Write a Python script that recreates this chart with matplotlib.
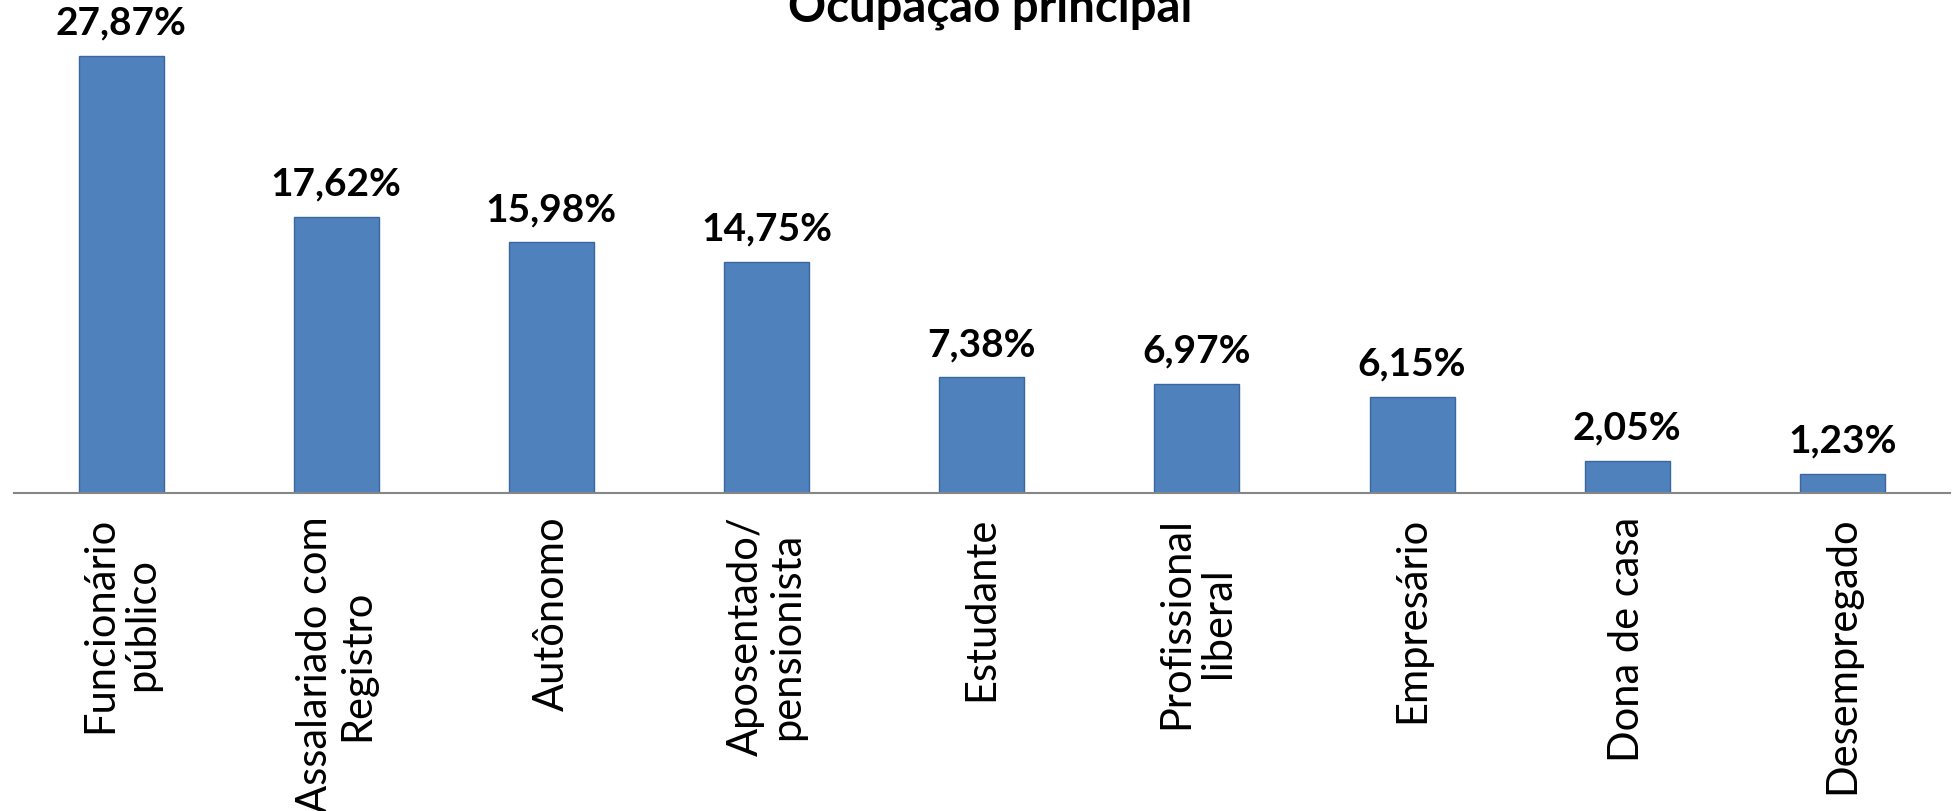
import numpy as np
import matplotlib
matplotlib.use("Agg")
import matplotlib.pyplot as plt

categories = ["Funcionário\npúblico", "Assalariado com\nRegistro", "Autônomo",
              "Aposentado/\npensionista", "Estudante", "Profissional\nliberal",
              "Empresário", "Dona de casa", "Desempregado"]
values = [27.87, 17.62, 15.98, 14.75, 7.38, 6.97, 6.15, 2.05, 1.23]
value_labels = ["27,87%", "17,62%", "15,98%", "14,75%", "7,38%", "6,97%",
                "6,15%", "2,05%", "1,23%"]
title = "Ocupação principal"

plt.rcParams['font.family'] = ['Lato', 'DejaVu Sans']

fig = plt.figure(figsize=(19.57, 8.11), dpi=100)
ax = fig.add_axes([0.0069, 0.392, 0.9895, 0.608])

x = np.arange(len(categories))
bars = ax.bar(x, values, width=0.395, color='#4F81BD', edgecolor='#3A679C',
              linewidth=1.0, zorder=2)

for b, lab in zip(bars, value_labels):
    ax.annotate(lab, (b.get_x() + b.get_width() / 2, b.get_height()),
                xytext=(0, 11), textcoords='offset points',
                ha='center', va='bottom', fontsize=28, fontweight='bold',
                clip_on=False)

ax.set_xlim(-0.5, len(categories) - 0.5)
ax.set_ylim(0, 31.44)
ax.set_xticks(x)
ax.set_xticklabels(categories, rotation=90, fontsize=30, linespacing=1.12)
ax.tick_params(axis='x', length=0, pad=17)
ax.set_yticks([])
for s in ['top', 'right', 'left']:
    ax.spines[s].set_visible(False)
ax.spines['bottom'].set_color('#868686')
ax.spines['bottom'].set_linewidth(1.5)

fig.text(0.506, 0.974, title, ha='center', va='baseline', fontsize=34,
         fontweight='bold')

fig.savefig("out.png", dpi=100)
